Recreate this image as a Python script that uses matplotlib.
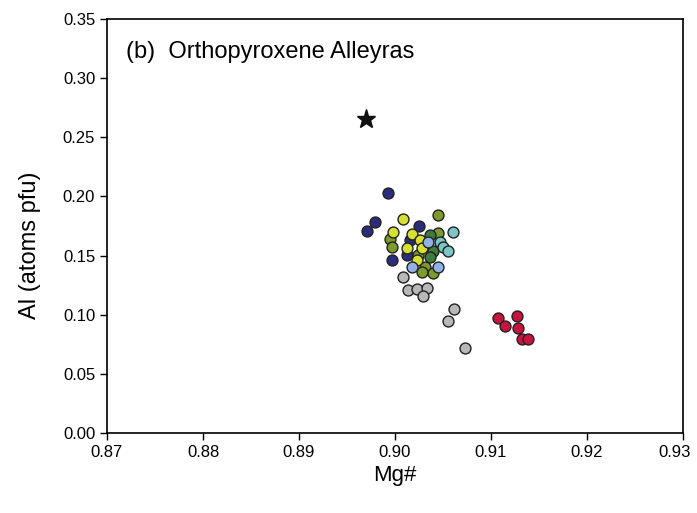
import matplotlib.pyplot as plt
import matplotlib.transforms as mtransforms
import numpy as np

plt.rcParams['font.family'] = ['Liberation Sans', 'DejaVu Sans']

# Mg#, Al (atoms pfu) par groupe
navy_x = [0.89927, 0.89792, 0.89708, 0.90250, 0.90156, 0.90125, 0.89969]
navy_y = [0.2029, 0.1784, 0.1708, 0.1750, 0.1631, 0.1505, 0.1462]

yellow_x = [0.90083, 0.89979, 0.90177, 0.90260, 0.90125, 0.90281, 0.90229]
yellow_y = [0.1809, 0.1699, 0.1682, 0.1631, 0.1564, 0.1564, 0.1462]

olive_x = [0.90448, 0.89948, 0.90448, 0.89969, 0.90240, 0.90313, 0.90281, 0.90396]
olive_y = [0.1843, 0.1640, 0.1691, 0.1572, 0.1505, 0.1403, 0.1361, 0.1352]

green_x = [0.90365, 0.90396, 0.90365]
green_y = [0.1674, 0.1538, 0.1488]

lblue_x = [0.90344, 0.90448, 0.90177]
lblue_y = [0.1615, 0.1403, 0.1403]

teal_x = [0.90604, 0.90469, 0.90500, 0.90552]
teal_y = [0.1699, 0.1615, 0.1572, 0.1538]

gray_x = [0.90083, 0.90135, 0.90229, 0.90333, 0.90292, 0.90615, 0.90552, 0.90729]
gray_y = [0.1319, 0.1209, 0.1217, 0.1226, 0.1158, 0.1048, 0.0947, 0.0719]

red_x = [0.91073, 0.91146, 0.91271, 0.91281, 0.91323, 0.91385]
red_y = [0.0972, 0.0904, 0.0989, 0.0888, 0.0795, 0.0795]

star_x = [0.89698]
star_y = [0.2654]

xticks = [0.87, 0.88, 0.89, 0.90, 0.91, 0.92, 0.93]
yticks = [0.00, 0.05, 0.10, 0.15, 0.20, 0.25, 0.30, 0.35]

fig = plt.figure(figsize=(6.97, 5.13), dpi=100)
ax = fig.add_axes([0.1535, 0.156, 0.8265, 0.807])

groups = [
    (gray_x, gray_y, '#b8b8b8'),
    (navy_x, navy_y, '#2c2c7c'),
    (olive_x, olive_y, '#7d9a2c'),
    (green_x, green_y, '#3f7c3c'),
    (yellow_x, yellow_y, '#d6e030'),
    (lblue_x, lblue_y, '#92b2e6'),
    (teal_x, teal_y, '#7cc6c6'),
    (red_x, red_y, '#c8143c'),
]
for gx, gy, c in groups:
    ax.scatter(gx, gy, s=62, c=c, edgecolors='#222222', linewidths=1.0, zorder=3)

ax.plot(star_x, star_y, marker='*', color='#111111', markersize=14, linestyle='none', zorder=4)

ax.set_xlim(0.87, 0.93)
ax.set_ylim(0.0, 0.35)
ax.set_xticks(xticks)
ax.set_yticks(yticks)
ax.set_xticklabels([f"{v:.2f}" for v in xticks])
ax.set_yticklabels([f"{v:.2f}" for v in yticks])
ax.tick_params(direction='out', length=5, width=1, labelsize=12, top=False, right=False)
for sp in ax.spines.values():
    sp.set_linewidth(1.2)

# décaler un peu le dernier label pour qu'il reste dans l'image
last = ax.get_xticklabels()[-1]
last.set_transform(last.get_transform() + mtransforms.ScaledTranslation(-6 / 72, 0, fig.dpi_scale_trans))

ax.set_xlabel("Mg#", fontsize=16)
ax.set_ylabel("Al (atoms pfu)", fontsize=17)
ax.yaxis.set_label_coords(-0.115, 0.454)
ax.text(0.033, 0.92, "(b)  Orthopyroxene Alleyras", transform=ax.transAxes,
        fontsize=17, va='center', ha='left')

fig.savefig("out.png", dpi=100)
